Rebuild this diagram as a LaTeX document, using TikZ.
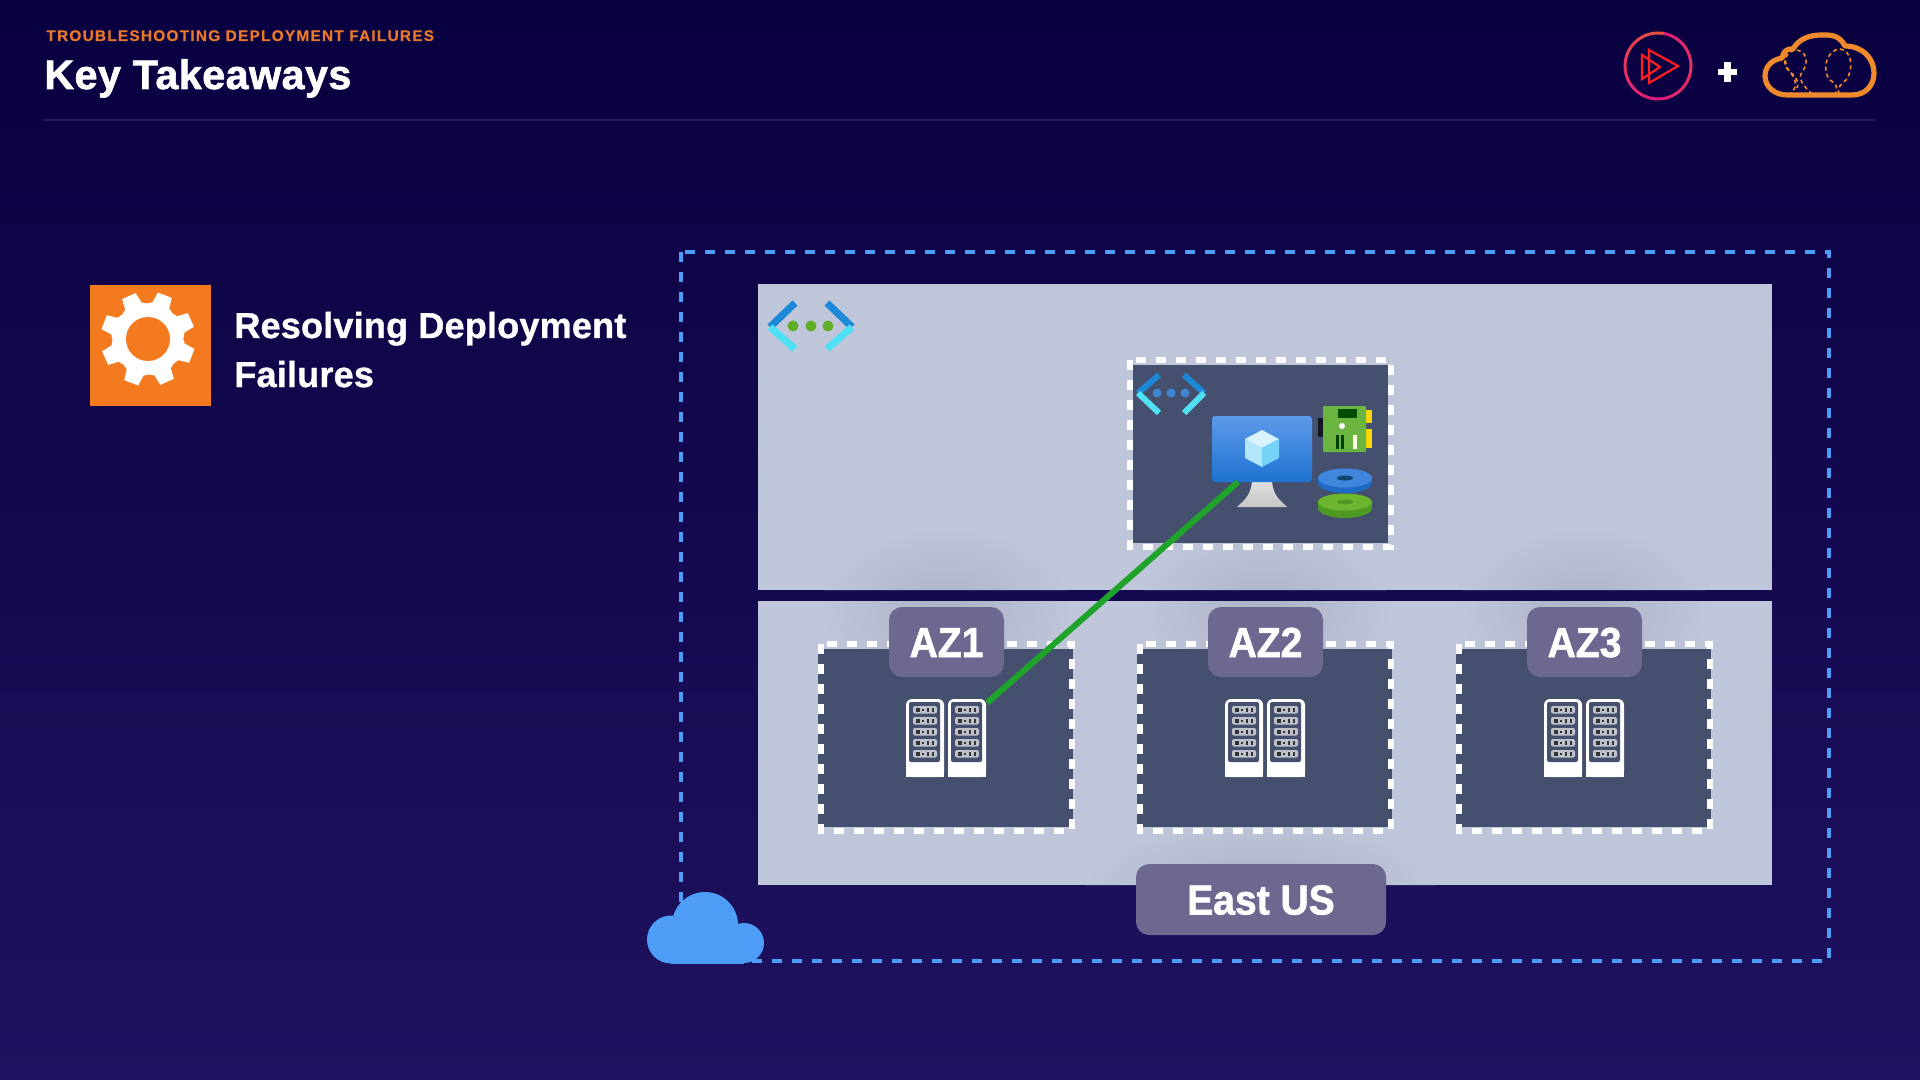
\documentclass[tikz,border=0pt]{standalone}
\usepackage{fontspec}
\setmainfont{Liberation Sans}
\newfontfamily\titlefont{Liberation Sans}[UprightFont=* Bold,FakeBold=1.6,LetterSpace=1.2]
\newfontfamily\hfont{Liberation Sans}[UprightFont=* Bold,FakeBold=1.0,LetterSpace=0.6]
\newfontfamily\badgefont{Liberation Sans}[UprightFont=* Bold,FakeBold=1.4,FakeStretch=0.93]
\newfontfamily\kickerfont{Liberation Sans}[UprightFont=* Bold,FakeBold=0.5,LetterSpace=8]
\definecolor{bgtop}{HTML}{090040}
\definecolor{bgbot}{HTML}{1F1260}
\definecolor{panel}{HTML}{BFC6D9}
\definecolor{panelglow}{HTML}{ADB2C5}
\definecolor{darkbox}{HTML}{454F6E}
\definecolor{badgec}{HTML}{6D6890}
\definecolor{orng}{HTML}{F37A1F}
\definecolor{kickc}{HTML}{E8792B}
\definecolor{dashblue}{HTML}{4D9CF5}
\definecolor{linkgreen}{HTML}{1FA32A}
\definecolor{cloudor}{HTML}{EE8A2B}
\definecolor{arma}{HTML}{1E88D8}
\definecolor{armb}{HTML}{4FE0F5}
\definecolor{rulec}{HTML}{241A5C}
\definecolor{ringtop}{HTML}{E8503F}
\definecolor{ringbot}{HTML}{E0197D}
\definecolor{nicgreen}{HTML}{6AB53F}
\definecolor{dotgreen}{HTML}{62AD28}
\definecolor{disktop}{HTML}{6CB52F}
\definecolor{diskside}{HTML}{4F9A22}
\definecolor{bluedisk}{HTML}{3F86DC}
\definecolor{bluediskside}{HTML}{1F6CC8}
\definecolor{montop}{HTML}{5C99E8}
\definecolor{monbot}{HTML}{1F73D2}
\tikzset{
 x=0.5pt,y=-0.5pt,
 whitedash/.style={draw=white,line width=2.6pt,dash pattern=on 5pt off 5pt},
 bluedash/.style={draw=dashblue,line width=2.3pt,dash pattern=on 5pt off 5pt},
 badge/.style={fill=badgec,rounded corners=6.5pt,text=white,inner sep=0pt,text height=15pt,text depth=0pt,font=\badgefont\fontsize{21}{21}\selectfont},
 link/.style={draw=linkgreen,line width=3pt},
 rackicon/.pic={
  \fill[white,rounded corners=3pt] (0,78) -- (0,0) -- (38,0) -- (38,78) -- cycle;
  \fill[white] (0,60) rectangle (38,78);
  \fill[darkbox,rounded corners=1pt] (3,3) rectangle (34,63);
  \foreach \r in {7,18,29,40,51}{
    \fill[white!65!darkbox,rounded corners=1pt] (7,\r) rectangle (31,\r+7.5);
    \fill[black!80] (9.5,\r+1.5) rectangle (14,\r+6);
    \fill[black!80] (16,\r+3) rectangle (18,\r+4.5);
    \fill[black!80] (21,\r+1.5) rectangle (23,\r+6);
    \fill[black!80] (25.5,\r+1.5) rectangle (27.5,\r+6);
  }
 }
}
\begin{document}
\begin{tikzpicture}
\useasboundingbox (0,0) rectangle (1920,1080);
\fill[top color=bgtop,bottom color=bgbot] (0,0) rectangle (1920,1080);
% header
\node[anchor=base west,inner sep=0,text=kickc] (kicker) at (46,41) {\kickerfont\fontsize{7.7}{10}\selectfont TROUBLESHOOTING DEPLOYMENT FAILURES};
\node[anchor=base west,inner sep=0,text=white] (title) at (44,89) {\titlefont\fontsize{20.6}{24}\selectfont Key Takeaways};
\draw[rulec,line width=1.2pt] (43,120) -- (1876,120);
% play logo
\foreach \i in {0,...,35}{
 \pgfmathtruncatemacro\t{abs(\i*10-90)>180 ? 100-(abs(\i*10-90)-180)/1.8 : 100-abs(\i*10-90)/1.8}
 \draw[line width=1.5pt,color=ringbot!\t!ringtop] (1658,66) ++(\i*10:33) arc[start angle=\i*10,end angle=\i*10+10.5,radius=33];
}
\draw[draw=red!85!pink,line width=1.1pt,line join=miter] (1649,50) -- (1678,66) -- (1649,83) -- cycle;
\draw[draw=red!85!pink,line width=1.1pt] (1642,55) -- (1660,67) -- (1642,79) -- cycle;
\fill[white] (1717.5,69) rectangle (1736.5,75.5);
\fill[white] (1723.5,62.5) rectangle (1730.5,82);
% orange cloud
\draw[cloudor,line width=2.6pt,line join=round]
 (1787,95) -- (1852,95)
 .. controls (1866,95) and (1874,85) .. (1874,73)
 .. controls (1874,58) and (1862,46) .. (1845,46)
 .. controls (1839,34) and (1829,35) .. (1821,35)
 .. controls (1808,35) and (1798,40) .. (1793,49)
 .. controls (1787,48) and (1783,52) .. (1782,58)
 .. controls (1771,60) and (1765,67) .. (1765,76)
 .. controls (1765,87) and (1775,95) .. (1787,95) -- cycle;
\begin{scope}[cloudor,line width=.8pt,dash pattern=on 2pt off 1.6pt]
\draw (1788,95) .. controls (1800,88) and (1795,78) .. (1790,72) .. controls (1782,62) and (1785,50) .. (1795,50) .. controls (1806,50) and (1810,62) .. (1802,72) .. controls (1796,80) and (1808,90) .. (1813,95);
\draw (1794,50) .. controls (1784,55) and (1781,64) .. (1790,72) .. controls (1798,78) and (1799,85) .. (1797,88);
\draw (1834,95) .. controls (1840,88) and (1835,83) .. (1830,80) .. controls (1822,72) and (1825,50) .. (1840,49) .. controls (1852,50) and (1854,70) .. (1846,80) .. controls (1840,85) and (1835,90) .. (1841,95);
\end{scope}
% gear tile
\fill[orng] (90,285) rectangle (211,406);
\begin{scope}[shift={(148,339)}]
\fill[white] (-1.5:35)
 \foreach \a in {21,66,111,156,201,246,291,336}{
   -- (\a-14:37) -- (\a-9:47.5) -- (\a+9:47.5) -- (\a+14:37) -- (\a+22.5:35.5)
 } -- cycle;
\fill[orng] (0,0) circle[radius=22];
\end{scope}
\node[anchor=base west,inner sep=0,text=white] (head1) at (234,338) {\hfont\fontsize{18}{18}\selectfont Resolving Deployment};
\node[anchor=base west,inner sep=0,text=white] (head2) at (234,387) {\hfont\fontsize{18}{18}\selectfont Failures};
% region
\draw[bluedash] (681,252) rectangle (1829,961);
\fill[panel] (758,284) rectangle (1772,590);
\fill[panel] (758,601) rectangle (1772,885);
\begin{scope}
\clip (758,284) rectangle (1772,590) (758,601) rectangle (1772,885);
\foreach \c in {946,1265,1584}{
 \shade[inner color=panelglow,outer color=panel] (\c,610) ellipse[x radius=125,y radius=85];
}
\shade[inner color=panelglow,outer color=panel] (1261,885) ellipse[x radius=175,y radius=65];
\end{scope}
% vnet icon in panel
\draw[arma,line width=3.6pt] (795,303) -- (770,327);
\draw[armb,line width=3.6pt] (770,327) -- (795,349);
\draw[arma,line width=3.6pt] (827,303) -- (852,327);
\draw[armb,line width=3.6pt] (852,327) -- (827,349);
\foreach \d in {793,811,828}{\fill[dotgreen] (\d,326) circle[radius=5.5];}
% VM box
\fill[darkbox] (1133,365) rectangle (1388,543);
\draw[whitedash] (1130,360) rectangle (1391,547);
\draw[arma,line width=3pt] (1159,375) -- (1138,393);
\draw[armb,line width=3pt] (1138,393) -- (1159,413);
\draw[arma,line width=3pt] (1184,375) -- (1204,393);
\draw[armb,line width=3pt] (1204,393) -- (1184,413);
\foreach \d in {1157,1171,1185}{\fill[dashblue!85!black] (\d,393) circle[radius=4.5];}
% monitor
\shade[top color=white!75!gray,bottom color=gray!45,draw=none] (1252,482) -- (1272,482) .. controls (1274,497) and (1280,500) .. (1287,507) -- (1237,507) .. controls (1244,500) and (1250,497) .. (1252,482) -- cycle;
\shade[top color=montop,bottom color=monbot,rounded corners=1.5pt] (1212,416) rectangle (1312,482);
\fill[cyan!15!white] (1262,430) -- (1279,439) -- (1262,448) -- (1245,439) -- cycle;
\fill[cyan!30!white] (1245,439) -- (1262,448) -- (1262,467) -- (1245,458) -- cycle;
\fill[cyan!55!white] (1279,439) -- (1262,448) -- (1262,467) -- (1279,458) -- cycle;
% NIC
\fill[black!70!darkbox] (1318,418) rectangle (1323,437);
\fill[yellow!75!orange] (1366,410) rectangle (1372,423);
\fill[yellow!75!orange] (1366,429) rectangle (1372,448);
\fill[nicgreen,rounded corners=.5pt] (1323,406) rectangle (1366,452);
\fill[green!30!black] (1338,409) rectangle (1357,418);
\fill[white] (1342,426) circle[radius=3];
\fill[green!25!black] (1336,435) rectangle (1339,449);
\fill[green!25!black] (1341,435) rectangle (1344,449);
\fill[white!90!yellow] (1353,435) rectangle (1357,449);
% disks
\fill[bluediskside] (1318,478) -- (1318,483) arc[start angle=180,end angle=0,x radius=27,y radius=10] -- (1372,478) -- cycle;
\fill[bluedisk] (1345,478) ellipse[x radius=27,y radius=9.5];
\fill[arma!50!black] (1345,478) ellipse[x radius=8,y radius=2.5];
\fill[diskside] (1318,502) -- (1318,508) arc[start angle=180,end angle=0,x radius=27,y radius=10] -- (1372,502) -- cycle;
\fill[disktop] (1345,502) ellipse[x radius=27,y radius=8.5];
\fill[diskside] (1345,502) ellipse[x radius=8,y radius=2.5];
% AZ boxes
\foreach \s in {0,319,638}{
 \begin{scope}[shift={(\s,0)}]
  \fill[darkbox] (818,649) rectangle (1073,827);
  \draw[whitedash] (821,644) rectangle (1072,831);
  \pic at (906,699) {rackicon};
  \pic at (948,699) {rackicon};
 \end{scope}
}
\node[badge,minimum width=57.5pt,minimum height=35pt] (az1) at (946.5,642) {AZ1};
\node[badge,minimum width=57.5pt,minimum height=35pt] (az2) at (1265.5,642) {AZ2};
\node[badge,minimum width=57.5pt,minimum height=35pt] (az3) at (1584.5,642) {AZ3};
\node[badge,minimum width=125pt,minimum height=35.5pt] (region) at (1261,899.5) {East US};
% blue cloud
\fill[dashblue] (671,939.5) circle[radius=24] (705,925) circle[radius=33] (744,943) circle[radius=20];
\fill[dashblue] (671,935) rectangle (744,963.5);
% link
\coordinate (vmport) at (1238,482);
\coordinate (rackport) at (987,703);
\draw[link] (vmport) -- (rackport);
\end{tikzpicture}
\end{document}
